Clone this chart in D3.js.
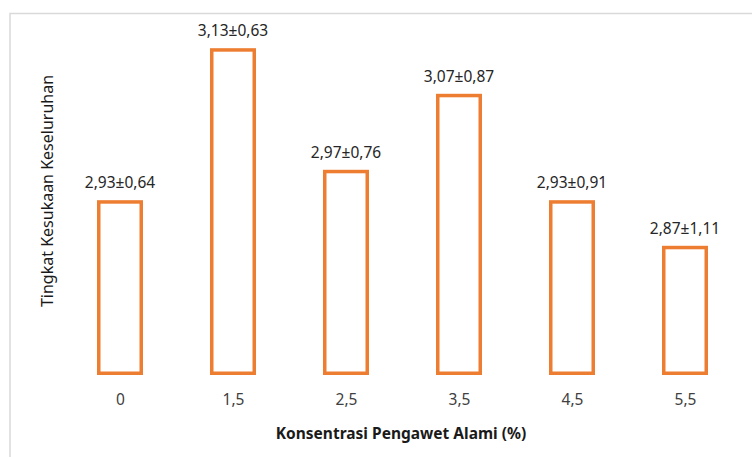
<!DOCTYPE html>
<html>
<head>
<meta charset="utf-8">
<script src="https://cdn.jsdelivr.net/npm/d3@7"></script>
<style>
  body { margin: 0; background: #fff; }
  text { font-family: "Noto Sans", "Open Sans", sans-serif; }
</style>
</head>
<body>
<svg id="chart" width="752" height="457"></svg>
<script>
// data
const categories = ['0', '1,5', '2,5', '3,5', '4,5', '5,5'];
const means = [2.93, 3.13, 2.97, 3.07, 2.93, 2.87];
const labels = ['2,93±0,64', '3,13±0,63', '2,97±0,76', '3,07±0,87', '2,93±0,91', '2,87±1,11'];

const svg = d3.select('#chart');

// chart frame
svg.append('path')
  .attr('d', 'M10,460 L10,13.5 L760,13.5')
  .attr('fill', 'none')
  .attr('stroke', '#d9d9d9')
  .attr('stroke-width', 1.5);

const x = d3.scalePoint()
  .domain(categories)
  .range([63.5, 741.5])
  .padding(0.5);

const y = d3.scaleLinear()
  .domain([2.7, 3.15])
  .range([375, 33]);

const barW = 42.5;
const rows = categories.map(function (c, i) {
  return { cat: c, v: means[i], label: labels[i] };
});

svg.append('g')
  .selectAll('rect')
  .data(rows)
  .join('rect')
  .attr('x', function (d) { return x(d.cat) - barW / 2; })
  .attr('y', function (d) { return y(d.v) + 1.75; })
  .attr('width', barW)
  .attr('height', function (d) { return y(2.7) - y(d.v) - 3.5; })
  .attr('fill', '#fff')
  .attr('stroke', '#ed7d31')
  .attr('stroke-width', 3.5);

svg.append('g')
  .selectAll('text')
  .data(rows)
  .join('text')
  .attr('x', function (d) { return x(d.cat); })
  .attr('y', function (d) { return y(d.v) - 12; })
  .attr('text-anchor', 'middle')
  .attr('font-size', 15.5)
  .attr('fill', '#262626')
  .text(function (d) { return d.label; });

// category axis, no line or ticks
const xAxis = svg.append('g')
  .attr('transform', 'translate(0,' + 388 + ')')
  .call(d3.axisBottom(x).tickSize(0).tickPadding(6));
xAxis.select('.domain').remove();
xAxis.selectAll('text')
  .attr('font-size', 15.5)
  .attr('font-family', '"Noto Sans", sans-serif')
  .attr('fill', '#404040');

svg.append('text')
  .attr('x', 401)
  .attr('y', 439)
  .attr('text-anchor', 'middle')
  .attr('font-size', 15.5)
  .attr('font-weight', 'bold')
  .attr('fill', '#1a1a1a')
  .text('Konsentrasi Pengawet Alami (%)');

svg.append('text')
  .attr('transform', 'translate(53,191) rotate(-90)')
  .attr('text-anchor', 'middle')
  .attr('font-size', 16)
  .attr('fill', '#1a1a1a')
  .text('Tingkat Kesukaan Keseluruhan');
</script>
</body>
</html>
